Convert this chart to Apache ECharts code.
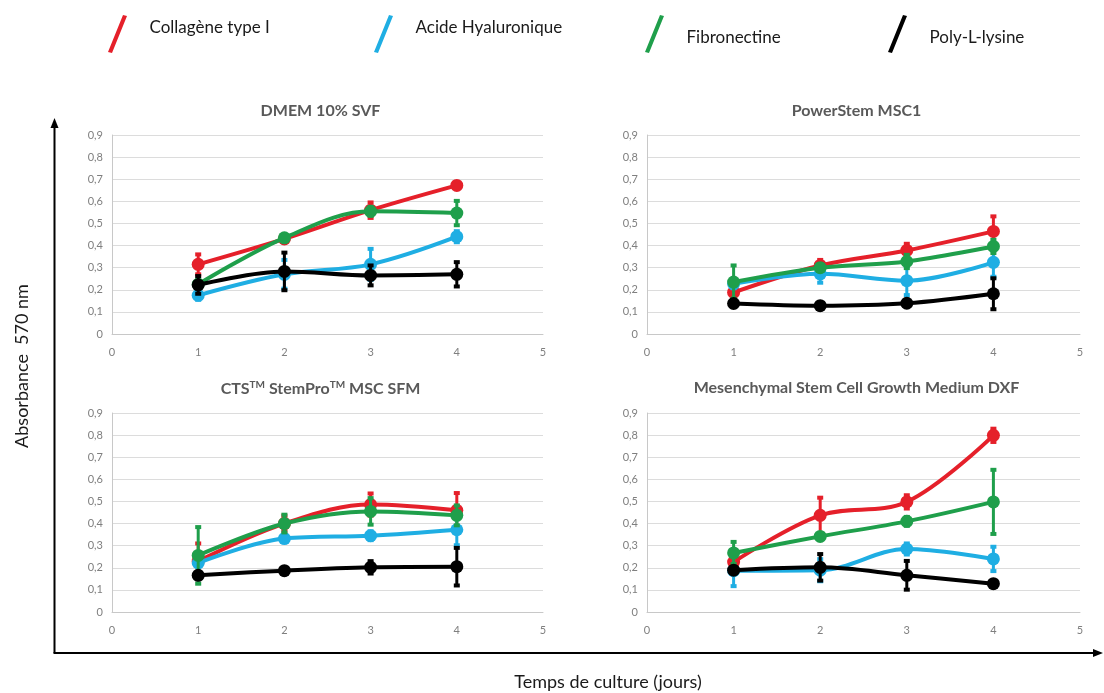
<!DOCTYPE html>
<html>
<head>
<meta charset="utf-8">
<script src="https://cdn.jsdelivr.net/npm/echarts@6/dist/echarts.min.js"></script>
<style>
html,body{margin:0;padding:0;background:#fff;}
#main{width:1104px;height:693px;}
</style>
</head>
<body>
<div id="main"></div>
<script>
// ---- Data ----
const days = [1, 2, 3, 4];
const seriesNames = ['Collagène type I', 'Acide Hyaluronique', 'Fibronectine', 'Poly-L-lysine'];
const panelTitles = ['DMEM 10% SVF', 'PowerStem MSC1', 'CTS{sup|TM} StemPro{sup|TM} MSC SFM', 'Mesenchymal Stem Cell Growth Medium DXF'];
const yTicks = [0, 0.1, 0.2, 0.3, 0.4, 0.5, 0.6, 0.7, 0.8, 0.9];
const xTicks = [0, 1, 2, 3, 4, 5];

// DMEM 10% SVF
const dmemCollagene = [0.315, 0.430, 0.560, 0.672];
const dmemCollageneErr = [0.045, 0.010, 0.035, 0.010];
const dmemHyaluronique = [0.175, 0.270, 0.315, 0.440];
const dmemHyaluroniqueErr = [0.020, 0.065, 0.070, 0.025];
const dmemFibronectine = [0.225, 0.435, 0.555, 0.547];
const dmemFibronectineErr = [0.020, 0.010, 0.020, 0.055];
const dmemPolyLysine = [0.222, 0.283, 0.265, 0.270];
const dmemPolyLysineErr = [0.040, 0.085, 0.045, 0.055];

// PowerStem MSC1
const powerCollagene = [0.188, 0.310, 0.378, 0.464];
const powerCollageneErr = [0.015, 0.025, 0.030, 0.068];
const powerHyaluronique = [0.227, 0.272, 0.241, 0.324];
const powerHyaluroniqueErr = [0.020, 0.040, 0.065, 0.065];
const powerFibronectine = [0.235, 0.300, 0.328, 0.396];
const powerFibronectineErr = [0.075, 0.015, 0.030, 0.030];
const powerPolyLysine = [0.138, 0.128, 0.139, 0.182];
const powerPolyLysineErr = [0.015, 0.008, 0.012, 0.070];

// CTS StemPro MSC SFM
const ctsCollagene = [0.230, 0.400, 0.486, 0.460];
const ctsCollageneErr = [0.080, 0.035, 0.050, 0.078];
const ctsHyaluronique = [0.222, 0.332, 0.345, 0.372];
const ctsHyaluroniqueErr = [0.015, 0.015, 0.020, 0.070];
const ctsFibronectine = [0.256, 0.400, 0.455, 0.437];
const ctsFibronectineErr = [0.128, 0.040, 0.060, 0.045];
const ctsPolyLysine = [0.166, 0.187, 0.202, 0.205];
const ctsPolyLysineErr = [0.015, 0.010, 0.028, 0.085];

// Mesenchymal Stem Cell Growth Medium DXF
const dxfCollagene = [0.226, 0.437, 0.498, 0.799];
const dxfCollageneErr = [0.015, 0.080, 0.030, 0.030];
const dxfHyaluronique = [0.187, 0.189, 0.285, 0.240];
const dxfHyaluroniqueErr = [0.070, 0.050, 0.025, 0.055];
const dxfFibronectine = [0.267, 0.342, 0.410, 0.498];
const dxfFibronectineErr = [0.050, 0.015, 0.020, 0.145];
const dxfPolyLysine = [0.189, 0.202, 0.166, 0.128];
const dxfPolyLysineErr = [0.010, 0.060, 0.065, 0.008];

const panels = [
  [[dmemCollagene, dmemCollageneErr], [dmemHyaluronique, dmemHyaluroniqueErr], [dmemFibronectine, dmemFibronectineErr], [dmemPolyLysine, dmemPolyLysineErr]],
  [[powerCollagene, powerCollageneErr], [powerHyaluronique, powerHyaluroniqueErr], [powerFibronectine, powerFibronectineErr], [powerPolyLysine, powerPolyLysineErr]],
  [[ctsCollagene, ctsCollageneErr], [ctsHyaluronique, ctsHyaluroniqueErr], [ctsFibronectine, ctsFibronectineErr], [ctsPolyLysine, ctsPolyLysineErr]],
  [[dxfCollagene, dxfCollageneErr], [dxfHyaluronique, dxfHyaluroniqueErr], [dxfFibronectine, dxfFibronectineErr], [dxfPolyLysine, dxfPolyLysineErr]]
];

// ---- Styling ----
const colors = ['#E5202A', '#1FAEE3', '#1F9F4B', '#000000'];
const FONT = 'Lato, "Open Sans", sans-serif';
const gridBoxes = [
  {left: 112, top: 135, width: 431, height: 199},
  {left: 647, top: 135, width: 433, height: 199},
  {left: 112, top: 413, width: 431, height: 199},
  {left: 647, top: 413, width: 433, height: 199}
];
const titleY = [98, 375];

function renderErr(params, api) {
  const x = api.value(0), lo = api.value(1), hi = api.value(2);
  const pLo = api.coord([x, lo]), pHi = api.coord([x, hi]);
  const c = api.visual('color');
  const w = 3;
  return {type: 'group', children: [
    {type: 'line', shape: {x1: pLo[0], y1: pLo[1], x2: pHi[0], y2: pHi[1]}, style: {stroke: c, lineWidth: 3}},
    {type: 'line', shape: {x1: pHi[0] - w, y1: pHi[1], x2: pHi[0] + w, y2: pHi[1]}, style: {stroke: c, lineWidth: 4}},
    {type: 'line', shape: {x1: pLo[0] - w, y1: pLo[1], x2: pLo[0] + w, y2: pLo[1]}, style: {stroke: c, lineWidth: 4}}
  ]};
}

const grids = [], xAxes = [], yAxes = [], titles = [], series = [];
panels.forEach((panel, p) => {
  grids.push(Object.assign({containLabel: false}, gridBoxes[p]));
  xAxes.push({
    type: 'value', gridIndex: p, min: xTicks[0], max: xTicks[xTicks.length - 1], interval: 1,
    axisLine: {show: true, lineStyle: {color: '#c8c8c8', width: 1}},
    axisTick: {show: false}, splitLine: {show: false},
    axisLabel: {color: '#7f7f7f', fontSize: 11, fontFamily: FONT, margin: 13}
  });
  yAxes.push({
    type: 'value', gridIndex: p, min: yTicks[0], max: yTicks[yTicks.length - 1], interval: 0.1,
    axisLine: {show: true, lineStyle: {color: '#c8c8c8', width: 1}},
    axisTick: {show: false},
    splitLine: {show: true, lineStyle: {color: '#dcdcdc', width: 1}},
    axisLabel: {color: '#7f7f7f', fontSize: 11, fontFamily: FONT, margin: 9,
      formatter: v => v === 0 ? '0' : v.toFixed(1).replace('.', ',')}
  });
  const g = gridBoxes[p];
  titles.push({
    text: panelTitles[p], left: g.left + g.width / 2 - 12, top: titleY[Math.floor(p / 2)], textAlign: 'center',
    textStyle: {color: '#595959', fontSize: 16, fontWeight: 'bold', fontFamily: FONT,
      rich: {sup: {fontSize: 10, fontWeight: 'bold', color: '#595959', fontFamily: FONT, verticalAlign: 'top', padding: [0, 0, 7, 0]}}}
  });
  panel.forEach((pair, s) => {
    const vals = pair[0], errs = pair[1];
    series.push({
      type: 'line', name: seriesNames[s], xAxisIndex: p, yAxisIndex: p,
      data: days.map((d, i) => [d, vals[i]]),
      smooth: 0.35, symbol: 'circle', symbolSize: 13,
      lineStyle: {color: colors[s], width: 4},
      itemStyle: {color: colors[s]},
      z: 3 + s
    });
    series.push({
      type: 'custom', name: seriesNames[s], xAxisIndex: p, yAxisIndex: p,
      data: days.map((d, i) => [d, vals[i] - errs[i], vals[i] + errs[i]]),
      encode: {x: 0, y: [1, 2]},
      renderItem: renderErr,
      itemStyle: {color: colors[s]},
      z: 3 + s
    });
  });
});

// legend icons: a slanted stroke; a tiny dot widens the box so the label sits higher or lower
const iconUp = 'path://M15,13 L19,14 L4,51 L0,50 Z M9,0 L9.01,0 L9,0.01 Z';
const iconDown = 'path://M15,0 L19,1 L4,38 L0,37 Z M9,46 L9.01,46 L9,46.01 Z';
const legendLeft = [103, 369, 640, 883];
const legendIcon = [iconUp, iconUp, iconDown, iconDown];
const legendH = [51, 51, 46, 46];
const legendTop = [-3, -3, 10, 10];
const legends = seriesNames.map((n, i) => ({
  data: [n], left: legendLeft[i], top: legendTop[i], orient: 'horizontal',
  icon: legendIcon[i], itemWidth: 54, itemHeight: legendH[i],
  symbolKeepAspect: true,
  selectedMode: false,
  textStyle: {color: '#1a1a1a', fontSize: 17, fontFamily: FONT}
}));

const chart = echarts.init(document.getElementById('main'), null, {renderer: 'canvas'});
chart.setOption({
  backgroundColor: '#ffffff',
  animation: false,
  title: titles,
  legend: legends,
  grid: grids,
  xAxis: xAxes,
  yAxis: yAxes,
  series: series,
  graphic: [
    {type: 'line', shape: {x1: 54.5, y1: 653, x2: 54.5, y2: 126}, style: {stroke: '#000', lineWidth: 2}},
    {type: 'polygon', shape: {points: [[54.5, 118], [50.5, 128], [58.5, 128]]}, style: {fill: '#000'}},
    {type: 'line', shape: {x1: 53.5, y1: 653, x2: 1095, y2: 653}, style: {stroke: '#000', lineWidth: 2}},
    {type: 'polygon', shape: {points: [[1103, 653], [1093, 649], [1093, 657]]}, style: {fill: '#000'}},
    {type: 'text', x: 22, y: 366, rotation: Math.PI / 2,
      style: {text: 'Absorbance  570 nm', fill: '#1a1a1a', fontSize: 18, fontFamily: FONT, textAlign: 'center', textVerticalAlign: 'middle'}},
    {type: 'text', x: 608, y: 682,
      style: {text: 'Temps de culture (jours)', fill: '#1a1a1a', fontSize: 18, fontFamily: FONT, textAlign: 'center', textVerticalAlign: 'middle'}}
  ]
});
</script>
</body>
</html>
